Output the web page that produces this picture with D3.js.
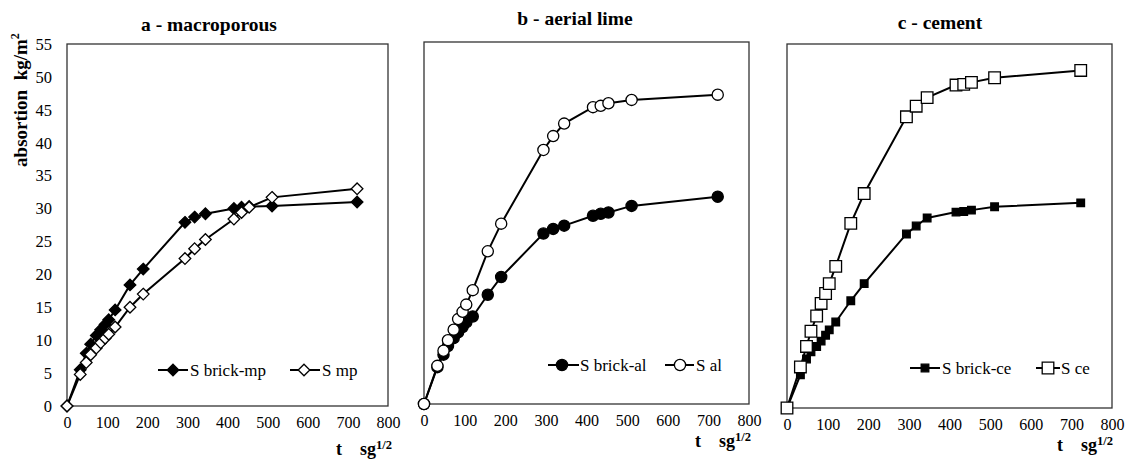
<!DOCTYPE html>
<meta charset="utf-8">
<script src="https://cdn.jsdelivr.net/npm/d3@7"></script>
<body style="margin:0; background:#fff">
<div id="chart"></div>
</body>
<script>
// time axis, square root of seconds (shared by all series)
var tSqrt = [0, 33, 48, 59, 73, 84, 95, 104, 120, 157, 190, 294, 318, 345, 416, 435, 454, 511, 723];

// a - macroporous
var brickMp = [0, 5.5, 8.0, 9.4, 10.7, 11.6, 12.4, 13.1, 14.6, 18.4, 20.8, 27.9, 28.7, 29.2, 30.0, 30.2, 30.3, 30.4, 31.0];
var mortarMp = [0, 4.8, 6.6, 7.8, 8.8, 9.6, 10.3, 10.9, 12.0, 15.0, 17.0, 22.4, 23.9, 25.3, 28.4, 29.4, 30.2, 31.7, 33.0];
// b - aerial lime
var brickAl = [0, 5.6, 7.5, 8.8, 10.0, 10.9, 11.7, 12.4, 13.3, 16.6, 19.3, 25.9, 26.6, 27.1, 28.6, 28.9, 29.1, 30.1, 31.5];
var mortarAl = [0, 5.8, 8.1, 9.7, 11.3, 12.9, 14.0, 15.1, 17.3, 23.2, 27.4, 38.6, 40.7, 42.6, 45.1, 45.3, 45.7, 46.2, 47.0];
// c - cement
var brickCe = [0, 5.0, 7.4, 8.5, 9.3, 10.1, 11.0, 11.8, 13.0, 16.2, 18.8, 26.3, 27.5, 28.7, 29.6, 29.7, 29.9, 30.4, 31.0];
var mortarCe = [0, 6.2, 9.3, 11.6, 13.9, 15.8, 17.3, 18.8, 21.4, 27.9, 32.4, 44.0, 45.6, 46.9, 48.8, 48.9, 49.2, 49.9, 51.0];

var xTicks = [0, 100, 200, 300, 400, 500, 600, 700, 800];
var yTicks = [0, 5, 10, 15, 20, 25, 30, 35, 40, 45, 50, 55];
var titles = ["a - macroporous", "b - aerial lime", "c - cement"];
var legendNames = [["S brick-mp", "S mp"], ["S brick-al", "S al"], ["S brick-ce", "S ce"]];

var FONT = "Liberation Serif";

var svg = d3.select("#chart").append("svg")
    .attr("width", 1126)
    .attr("height", 459)
    .attr("font-family", FONT);

// panel boxes, in pixels
var panels = [
  {box: {l: 67, r: 388, t: 44, b: 406}, series: [brickMp, mortarMp], shape: "diamond", yLabels: true,
   title: {x: 209, y: 31}, xTitle: {x: 336, y: 455},
   legend: {y: 370, items: [{x0: 158, x1: 188, m: 173, tx: 190}, {x0: 290, x1: 320, m: 304, tx: 322}]}},
  {box: {l: 424, r: 749, t: 42, b: 404}, series: [brickAl, mortarAl], shape: "circle", yLabels: false,
   title: {x: 575, y: 25}, xTitle: {x: 695, y: 447},
   legend: {y: 365, items: [{x0: 548, x1: 579, m: 562, tx: 580}, {x0: 665, x1: 694, m: 680, tx: 696}]}},
  {box: {l: 787, r: 1112, t: 44, b: 408}, series: [brickCe, mortarCe], shape: "square", yLabels: false,
   title: {x: 940, y: 29}, xTitle: {x: 1057, y: 451},
   legend: {y: 368, items: [{x0: 910, x1: 940, m: 925, tx: 942}, {x0: 1036, x1: 1060, m: 1048, tx: 1061}]}}
];

// marker path centred on (cx, cy)
function marker(shape, filled, cx, cy) {
  var r;
  if (shape === "diamond") {
    r = 5.8;
    return "M" + cx + "," + (cy - r) + "L" + (cx + r) + "," + cy + "L" + cx + "," + (cy + r) + "L" + (cx - r) + "," + cy + "Z";
  }
  if (shape === "square") {
    r = filled ? 3.8 : 5.8;
    return "M" + (cx - r) + "," + (cy - r) + "h" + (2 * r) + "v" + (2 * r) + "h" + (-2 * r) + "Z";
  }
  r = 5.6;
  return "M" + (cx - r) + "," + cy + "a" + r + "," + r + " 0 1,0 " + (2 * r) + ",0a" + r + "," + r + " 0 1,0 " + (-2 * r) + ",0Z";
}

function styleMarker(sel, filled) {
  sel.attr("fill", filled ? "#000" : "#fff")
     .attr("stroke", "#000")
     .attr("stroke-width", 1.3);
}

panels.forEach(function(p, pi) {
  var x = d3.scaleLinear().domain([0, 800]).range([p.box.l, p.box.r]);
  var y = d3.scaleLinear().domain([0, 55]).range([p.box.b, p.box.t]);
  var g = svg.append("g");

  // frame
  g.append("rect")
    .attr("x", p.box.l).attr("y", p.box.t)
    .attr("width", p.box.r - p.box.l).attr("height", p.box.b - p.box.t)
    .attr("fill", "none").attr("stroke", "#333").attr("stroke-width", 1.3);

  // x axis labels
  var xAxis = g.append("g")
    .attr("transform", "translate(0," + (p.box.b + 5) + ")")
    .call(d3.axisBottom(x).tickValues(xTicks).tickSize(0).tickPadding(6));
  xAxis.select(".domain").remove();
  xAxis.attr("font-family", FONT).attr("font-size", 16);
  xAxis.selectAll("text").attr("fill", "#000");

  if (p.yLabels) {
    var yAxis = g.append("g")
      .attr("transform", "translate(" + (p.box.l - 13) + ",0)")
      .call(d3.axisLeft(y).tickValues(yTicks).tickSize(0).tickPadding(2));
    yAxis.select(".domain").remove();
    yAxis.attr("font-family", FONT).attr("font-size", 16.5);
    yAxis.selectAll("text").attr("fill", "#000");

    svg.append("text")
      .attr("transform", "translate(27,100) rotate(-90)")
      .attr("text-anchor", "middle")
      .attr("font-family", FONT)
      .attr("font-size", 19).attr("font-weight", "bold")
      .html('absortion&#160;&#160;kg/m<tspan dy="-8" font-size="12">2</tspan>');
  }

  // title
  g.append("text")
    .attr("x", p.title.x).attr("y", p.title.y)
    .attr("text-anchor", "middle")
    .attr("font-family", FONT)
    .attr("font-size", 19.5).attr("font-weight", "bold")
    .text(titles[pi]);

  // x title
  g.append("text")
    .attr("x", p.xTitle.x).attr("y", p.xTitle.y)
    .attr("font-family", FONT)
    .attr("font-size", 18).attr("font-weight", "bold")
    .html('t&#160;&#160;&#160;&#160;sg<tspan dy="-6" font-size="12.5">1/2</tspan>');

  var line = d3.line()
    .x(function(d, i) { return x(tSqrt[i]); })
    .y(function(d) { return y(d); });

  p.series.forEach(function(vals, si) {
    var filled = si === 0;
    g.append("path")
      .datum(vals)
      .attr("d", line)
      .attr("fill", "none")
      .attr("stroke", "#000")
      .attr("stroke-width", 2);

    g.selectAll(".m" + si)
      .data(vals)
      .enter()
      .append("path")
        .attr("class", "m" + si)
        .attr("d", function(d, i) { return marker(p.shape, filled, x(tSqrt[i]), y(d)); })
        .call(styleMarker, filled);

    // legend entry
    var it = p.legend.items[si];
    g.append("line")
      .attr("x1", it.x0).attr("x2", it.x1)
      .attr("y1", p.legend.y).attr("y2", p.legend.y)
      .attr("stroke", "#000").attr("stroke-width", 2);
    g.append("path")
      .attr("d", marker(p.shape, filled, it.m, p.legend.y))
      .call(styleMarker, filled);
    g.append("text")
      .attr("x", it.tx).attr("y", p.legend.y + 6)
      .attr("font-family", FONT)
      .attr("font-size", 17)
      .text(legendNames[pi][si]);
  });
});
</script>
</html>
